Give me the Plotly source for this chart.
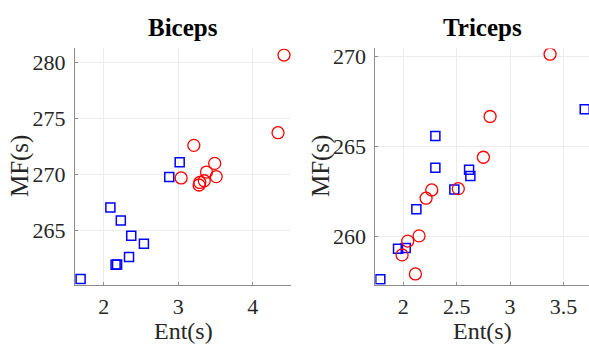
import plotly.graph_objects as go

# ---------------- data ----------------
biceps_blue_ent = [1.69, 2.09, 2.23, 2.37, 2.54, 2.34, 2.16, 2.18, 2.88, 3.02]
biceps_blue_mf = [260.67, 267.06, 265.91, 264.53, 263.82, 262.64, 261.95, 261.98, 269.79, 271.11]
biceps_red_ent = [4.42, 4.34, 3.21, 3.04, 3.49, 3.38, 3.51, 3.35, 3.29, 3.28]
biceps_red_mf = [280.67, 273.74, 272.61, 269.70, 271.00, 270.23, 269.82, 269.45, 269.30, 269.07]

triceps_blue_ent = [3.70, 2.30, 2.30, 2.616, 2.628, 2.478, 2.122, 1.95, 2.022, 1.784]
triceps_blue_mf = [267.07, 265.58, 263.82, 263.71, 263.35, 262.61, 261.51, 259.31, 259.35, 257.60]
triceps_red_ent = [3.375, 2.813, 2.75, 2.515, 2.266, 2.213, 2.147, 2.041, 1.988, 2.113]
triceps_red_mf = [270.14, 266.67, 264.40, 262.65, 262.58, 262.12, 260.02, 259.73, 258.96, 257.90]

titles = ["Biceps", "Triceps"]
x_label = "Ent(s)"
y_label = "MF(s)"
biceps_xticks = [2, 3, 4]
biceps_yticks = [265, 270, 275, 280]
triceps_xticks = [2, 2.5, 3, 3.5]
triceps_yticks = [260, 265, 270]

W, H = 589, 345
FONT = "Liberation Serif, Times New Roman, serif"
BLUE = "#0000ff"
RED = "#ff0000"

fig = go.Figure()

def add_pair(xa, ya, bx, by, rx, ry):
    fig.add_trace(go.Scatter(x=bx, y=by, mode="markers", xaxis=xa, yaxis=ya,
                             marker=dict(symbol="square-open", size=9, color=BLUE,
                                         line=dict(width=1.5, color=BLUE)),
                             showlegend=False))
    fig.add_trace(go.Scatter(x=rx, y=ry, mode="markers", xaxis=xa, yaxis=ya,
                             marker=dict(symbol="circle-open", size=12, color=RED,
                                         line=dict(width=1.3, color=RED)),
                             showlegend=False))

add_pair("x", "y", biceps_blue_ent, biceps_blue_mf, biceps_red_ent, biceps_red_mf)
add_pair("x2", "y2", triceps_blue_ent, triceps_blue_mf, triceps_red_ent, triceps_red_mf)

y_dom = [61 / H, 300 / H]
d1 = [75 / W, 291 / W]
d2 = [375.3 / W, 1.0]

axis_common = dict(
    showgrid=True, gridcolor="#ececec", gridwidth=1,
    showline=True, linecolor="#8c8c8c", linewidth=1,
    ticks="inside", ticklen=3, tickcolor="#8c8c8c",
    zeroline=False, mirror=False,
    tickfont=dict(family=FONT, size=22, color="#262626"),
)
xcommon = dict(axis_common, ticklabelstandoff=2)
ycommon = dict(axis_common, ticklabelstandoff=4)

fig.update_layout(
    width=W, height=H,
    margin=dict(l=0, r=0, t=0, b=0),
    paper_bgcolor="white", plot_bgcolor="white",
    xaxis=dict(domain=d1, range=[1.615, 4.514], tickvals=biceps_xticks, anchor="y", **xcommon),
    yaxis=dict(domain=y_dom, range=[260.17, 281.26], tickvals=biceps_yticks, anchor="x", **ycommon),
    xaxis2=dict(domain=d2, range=[1.737, 3.74], tickvals=triceps_xticks, anchor="y2", **xcommon),
    yaxis2=dict(domain=y_dom, range=[257.3, 270.46], tickvals=triceps_yticks, anchor="x2", **ycommon),
)

ann = []
for dom, t in zip([d1, d2], titles):
    cx = (dom[0] + dom[1]) / 2
    ann.append(dict(text="<b>%s</b>" % t, x=cx, y=1 - 24 / H, xref="paper", yref="paper",
                    showarrow=False, xanchor="center", yanchor="middle",
                    font=dict(family=FONT, size=25, color="black")))
    ann.append(dict(text=x_label, x=cx, y=1 - 331 / H, xref="paper", yref="paper",
                    showarrow=False, xanchor="center", yanchor="middle",
                    font=dict(family=FONT, size=24, color="#262626")))
for xpx in [20, 321]:
    ann.append(dict(text=y_label, x=xpx / W, y=1 - 164 / H, xref="paper", yref="paper",
                    showarrow=False, xanchor="center", yanchor="middle", textangle=-90,
                    font=dict(family=FONT, size=25, color="#262626")))
fig.update_layout(annotations=ann)

fig.write_html("out.html")
